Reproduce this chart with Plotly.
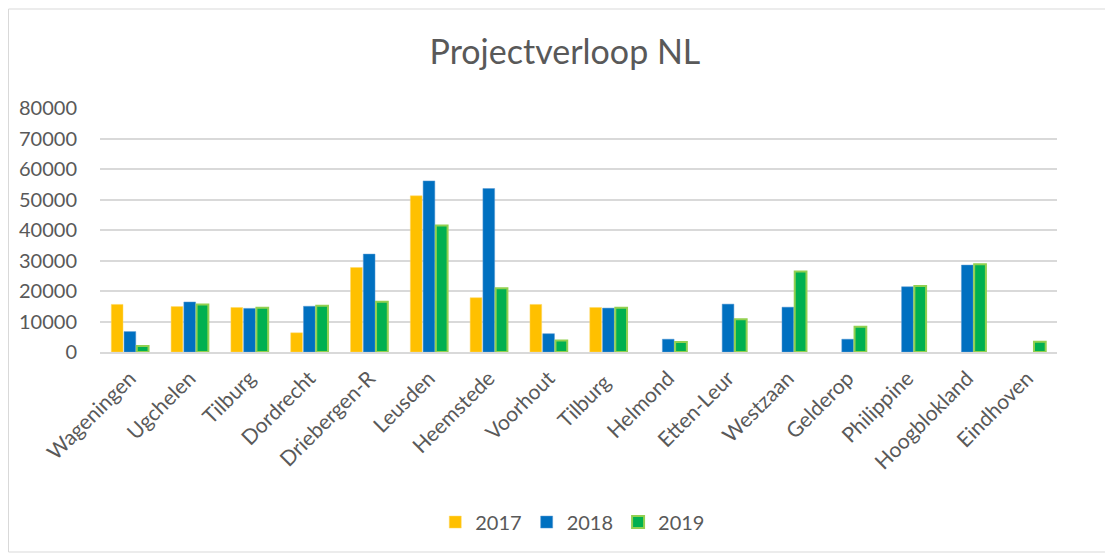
import plotly.graph_objects as go

categories = ["Wageningen", "Ugchelen", "Tilburg", "Dordrecht", "Driebergen-R", "Leusden",
              "Heemstede", "Voorhout", "Tilburg ", "Helmond", "Etten-Leur", "Westzaan",
              "Gelderop", "Philippine", "Hoogblokland", "Eindhoven"]
v2017 = [15600, 14900, 14600, 6300, 27700, 51200, 17800, 15600, 14600, None, None, None, None, None, None, None]
v2018 = [6700, 16400, 14300, 15000, 32100, 56100, 53600, 6000, 14400, 4200, 15700, 14700, 4200, 21400, 28500, None]
v2019 = [2000, 15600, 14500, 15200, 16500, 41500, 20900, 3800, 14500, 3300, 10700, 26400, 8300, 21600, 28800, 3400]

font = "Lato, 'Open Sans', sans-serif"
grey = "#595959"

fig = go.Figure()
fig.add_trace(go.Bar(name="2017", x=categories, y=v2017, marker=dict(color="#FFC000", line=dict(color="#FFD966", width=0.5))))
fig.add_trace(go.Bar(name="2018", x=categories, y=v2018, marker=dict(color="#0070C0", line=dict(color="#5B9BD5", width=0.5))))
fig.add_trace(go.Bar(name="2019", x=categories, y=v2019, marker=dict(color="#00B050", line=dict(color="#92D050", width=2))))

fig.update_layout(
    width=1113, height=554,
    paper_bgcolor="white", plot_bgcolor="white",
    margin=dict(l=92, r=64, t=100, b=210),
    barmode="group", bargap=0.36, bargroupgap=0.08,
    title=dict(text="Projectverloop NL", x=0.5004, xanchor="center", y=0.9206, yanchor="middle",
               font=dict(family=font, size=34, color=grey)),
    font=dict(family=font, color=grey),
    legend=dict(orientation="h", x=0.494, xanchor="center", y=-0.697, yanchor="middle",
                font=dict(size=20, color=grey), traceorder="normal"),
    yaxis=dict(range=[0, 80000], dtick=10000, showgrid=True, gridcolor="#D9D9D9", gridwidth=1.5,
               zeroline=False, showline=False, tickfont=dict(size=20, color=grey),
               ticklabelstandoff=22, tickformat="d"),
    xaxis=dict(tickangle=-45, tickfont=dict(size=21, color=grey), showline=True,
               linecolor="#D9D9D9", linewidth=1.5, showgrid=False, ticks="", ticklabelstandoff=4),
    shapes=[dict(type="rect", xref="paper", yref="paper",
                 x0=-0.0956, x1=1.0512, y0=-0.8197, y1=1.4057,
                 line=dict(color="#D9D9D9", width=1), fillcolor="rgba(0,0,0,0)", layer="below")],
)

fig.write_html("out.html")
